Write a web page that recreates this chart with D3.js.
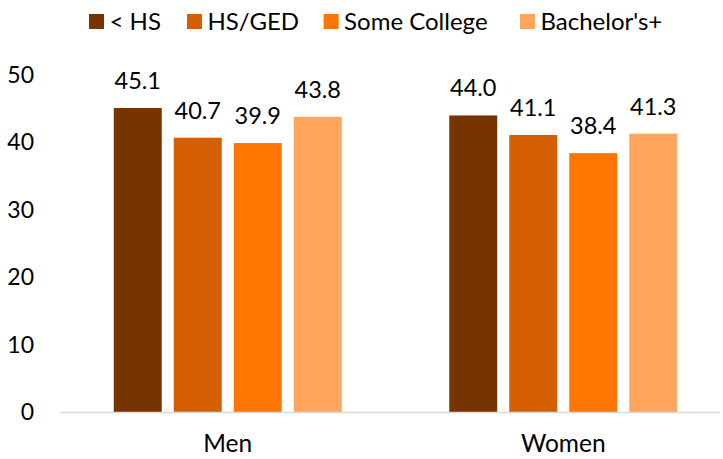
<!DOCTYPE html>
<html>
<head>
<meta charset="utf-8">
<script src="https://cdn.jsdelivr.net/npm/d3@7"></script>
<style>
  html, body { margin: 0; padding: 0; background: #fff; }
  text { font-family: Lato, "Noto Sans", sans-serif; fill: #000; }
</style>
</head>
<body>
<svg id="chart" width="723" height="459"></svg>
<script>
const categories = ["Men", "Women"];
const series = ["< HS", "HS/GED", "Some College", "Bachelor's+"];
const lessHS = [45.1, 44.0];
const hsGed = [40.7, 41.1];
const someCollege = [39.9, 38.4];
const bachelors = [43.8, 41.3];
const yTicks = [0, 10, 20, 30, 40, 50];
const colors = ["#763500", "#d35f00", "#ff7500", "#ffa55e"];

const values = [lessHS, hsGed, someCollege, bachelors];
const data = categories.map((c, i) => ({
  category: c,
  bars: series.map((s, j) => ({ series: s, value: values[j][i], color: colors[j] }))
}));

const svg = d3.select("#chart");
const y = d3.scaleLinear().domain([0, 50]).range([412, 75]);
const x0 = d3.scaleBand().domain(categories).range([60, 731]).padding(0);
const x1 = d3.scaleBand().domain(series).range([0, x0.bandwidth()])
  .paddingInner(0.2).paddingOuter(0.896);

// y tick labels
svg.append("g").selectAll("text").data(yTicks).join("text")
  .attr("x", 34).attr("y", d => y(d)).attr("dy", "0.35em")
  .attr("text-anchor", "end").style("font-size", "23px").text(d => d);

// bars
const groups = svg.append("g").selectAll("g").data(data).join("g")
  .attr("transform", d => `translate(${x0(d.category)},0)`);
groups.selectAll("rect").data(d => d.bars).join("rect")
  .attr("x", d => x1(d.series)).attr("width", x1.bandwidth())
  .attr("y", d => y(d.value)).attr("height", d => y(0) - y(d.value))
  .attr("fill", d => d.color);
groups.selectAll("text").data(d => d.bars).join("text")
  .attr("x", d => x1(d.series) + x1.bandwidth() / 2)
  .attr("y", d => y(d.value) - 19)
  .attr("text-anchor", "middle").style("font-size", "23.5px")
  .text(d => d.value.toFixed(1));

// axis line
svg.append("line").attr("x1", 60).attr("x2", 720)
  .attr("y1", y(0) + 0.5).attr("y2", y(0) + 0.5)
  .attr("stroke", "#d9d9d9").attr("stroke-width", 1.5);

// category labels
svg.append("g").selectAll("text").data(categories).join("text")
  .attr("x", d => x0(d) + x0.bandwidth() / 2).attr("y", 452)
  .attr("text-anchor", "middle").style("font-size", "24.5px").text(d => d);

// legend
const legendX = [89, 187, 323.6, 520];
const lg = svg.append("g").selectAll("g").data(series).join("g")
  .attr("transform", (d, i) => `translate(${legendX[i]},14)`);
lg.append("rect").attr("width", 15).attr("height", 15).attr("fill", (d, i) => colors[i]);
lg.append("text").attr("x", 20.5).attr("y", 15.5).style("font-size", "24px").text(d => d);
</script>
</body>
</html>
